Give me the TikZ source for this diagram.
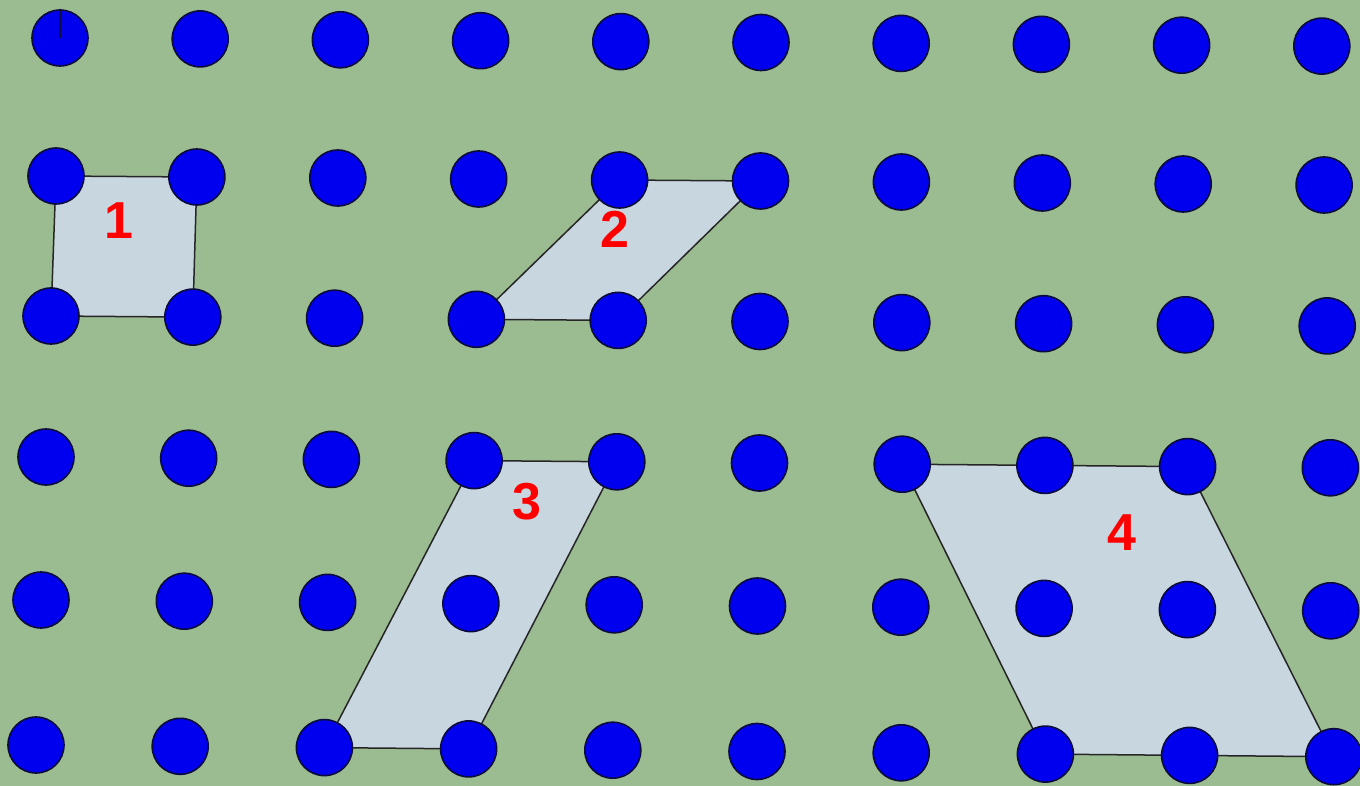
\documentclass[tikz,border=0pt]{standalone}
\usepackage{fontspec}
\setmainfont{Liberation Sans}
\definecolor{bg}{RGB}{155,187,145}
\definecolor{shapefill}{RGB}{200,214,224}
\definecolor{dotblue}{RGB}{0,0,238}
\definecolor{dotedge}{RGB}{12,12,60}
\definecolor{lblred}{RGB}{255,0,0}
\tikzset{
  dot/.style={circle,fill=dotblue,draw=dotedge,line width=1.6pt,minimum size=56pt,inner sep=0pt},
  para/.style={fill=shapefill,draw=black!85,line width=1.5pt,line join=round},
  lbl/.style={text=lblred,font=\fontsize{52}{60}\selectfont\bfseries,inner sep=0pt}
}
\begin{document}
\begin{tikzpicture}[x=1pt,y=-1pt]
\fill[bg] (0,0) rectangle (1360,786);
\useasboundingbox (0,0) rectangle (1360,786);
\foreach \j/\xo/\dx/\yo/\dy in {0/60/140.2/38/0.9, 1/56/140.9/176/1, 2/51/141.8/316/1.1, 3/46/142.7/457/1.2, 4/41/143.3/600/1.2, 5/36/144.2/745/1.3}{
  \foreach \i in {0,...,9}{
    \coordinate (p\i-\j) at ({\xo+\i*\dx},{\yo+\i*\dy});
  }
}
% parallelograms
\draw[para] (p0-1) -- (p1-1) -- (p1-2) -- (p0-2) -- cycle;
\draw[para] (p4-1) -- (p5-1) -- (p4-2) -- (p3-2) -- cycle;
\draw[para] (p3-3) -- (p4-3) -- (p3-5) -- (p2-5) -- cycle;
\draw[para] (p6-3) -- (p8-3) -- (p9-5) -- (p7-5) -- cycle;
% dots
\foreach \j in {0,...,5}{
  \foreach \i in {0,...,9}{
    \node[dot] (d\i-\j) at (p\i-\j) {};
  }
}
% small mark on the first dot
\coordinate (m1) at (60.5,9);
\draw[dotedge,line width=1.6pt] (m1) -- (d0-0.center);
% labels
\node[lbl] (l1) at (119,221) {1};
\node[lbl] (l2) at (615,229) {2};
\node[lbl] (l3) at (527,502) {3};
\node[lbl] (l4) at (1122,533) {4};
\end{tikzpicture}
\end{document}
